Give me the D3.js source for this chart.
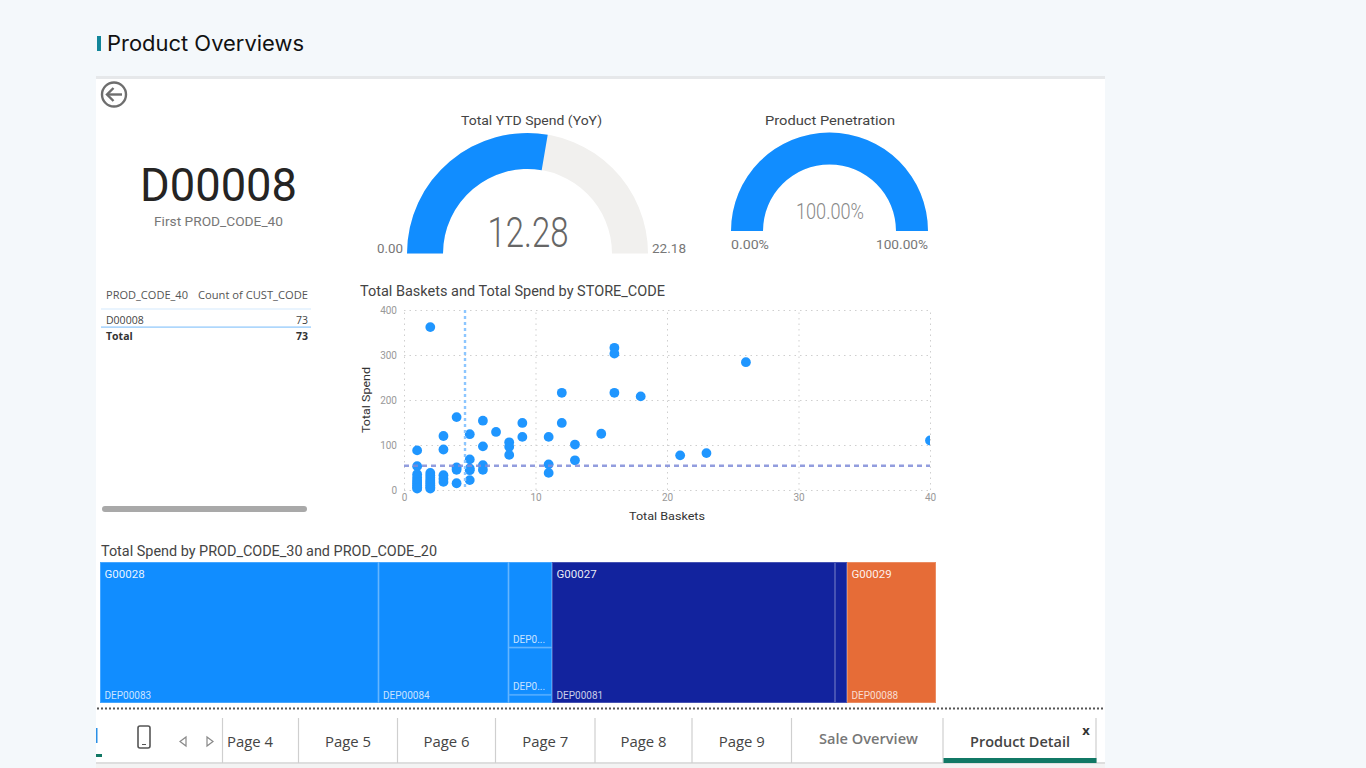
<!DOCTYPE html>
<html>
<head>
<meta charset="utf-8">
<title>Product Overviews</title>
<script src="https://cdn.jsdelivr.net/npm/d3@7"></script>
<style>
  html, body { margin: 0; padding: 0; background: #f4f8fb; overflow: hidden; }
  svg { display: block; }
  text { font-family: Roboto, sans-serif; }
</style>
</head>
<body>
<svg id="page" width="1366" height="768"></svg>
<script>
// Report values
const productCode = "D00008";
const ytdSpend = 12.28;
const ytdSpendMax = 22.18;
const penetration = 100;
const penetrationMax = 100;
const tableHeaders = ["PROD_CODE_40", "Count of CUST_CODE"];
const tableRowValue = 73;
const tableTotalValue = 73;

// Store scatter: baskets and spend per store
const storeBaskets = [2, 1, 1, 1, 1, 1, 1, 1, 1, 1, 1, 2, 2, 2, 2, 2, 2, 2, 2, 2,
  3, 3, 3, 3, 3, 4, 4, 4, 4, 5, 5, 5, 5, 5, 6, 6, 6, 6, 7, 8, 8, 8, 9, 9,
  11, 11, 11, 12, 12, 13, 13, 15, 16, 16, 16, 18, 21, 23, 26, 40];
const storeSpend = [362, 88, 53, 35, 28, 22, 18, 14, 10, 6, 3, 38, 32, 27, 22, 18, 14, 10, 6, 3,
  120, 90, 33, 25, 18, 162, 50, 45, 15, 124, 68, 48, 44, 22, 154, 97, 55, 45, 129, 106, 96, 78, 149, 118,
  118, 57, 38, 216, 149, 101, 66, 125, 316, 303, 216, 208, 77, 82, 284, 110];
const averageBaskets = 4.64;
const averageSpend = 54;
const basketTicks = [0, 10, 20, 30, 40];
const spendTicks = [0, 100, 200, 300, 400];

// Spend treemap by group and department
const group28Departments = ["DEP00083", "DEP00084"];
const group28Spend = [2785, 1300];
const group28SmallDepartments = ["DEP0...", "DEP0...", ""];
const group28SmallSpend = [264, 146, 25];
const group27Departments = ["DEP00081", ""];
const group27Spend = [2830, 120];
const group29Departments = ["DEP00088"];
const group29Spend = [890];

const tabNames = ["Page 4", "Page 5", "Page 6", "Page 7", "Page 8", "Page 9"];

const BLUE = "#118DFF", NAVY = "#12239E", ORANGE = "#E66C37";

const svg = d3.select("#page");

function label(parent, x, y, str, o = {}) {
  const t = parent.append("text")
    .attr("x", x).attr("y", y).text(str)
    .attr("text-anchor", o.anchor || "start")
    .attr("font-size", o.size || 12)
    .attr("font-weight", o.weight || 400)
    .attr("fill", o.color || "#444");
  if (o.family) t.style("font-family", o.family);
  if (o.width) t.attr("textLength", o.width).attr("lengthAdjust", "spacingAndGlyphs");
  if (o.opacity) t.attr("fill-opacity", o.opacity);
  return t;
}

// Page heading and report canvas
svg.append("rect").attr("x", 97).attr("y", 36).attr("width", 4).attr("height", 15).attr("fill", "#12869a");
label(svg, 107, 51, "Product Overviews", { size: 21, color: "#111", family: "Inter, sans-serif", width: 197 });
svg.append("rect").attr("x", 96).attr("y", 76).attr("width", 1009).attr("height", 3).attr("fill", "#e6e8ea");
svg.append("rect").attr("x", 96).attr("y", 79).attr("width", 1009).attr("height", 685).attr("fill", "#fff");

// Back button
const back = svg.append("g").attr("fill", "none").attr("stroke", "#6e6e6e").attr("stroke-width", 2.4);
back.append("circle").attr("cx", 114).attr("cy", 94.5).attr("r", 12);
back.append("path").attr("d", d3.line()([[107, 94.5], [122, 94.5]]));
back.append("path").attr("d", d3.line()([[113.5, 88], [107, 94.5], [113.5, 101]]));

// Card
label(svg, 218.5, 201, productCode, { size: 46, color: "#252423", anchor: "middle", width: 157 });
label(svg, 218.5, 226, "First PROD_CODE_40", { size: 13, color: "#777", anchor: "middle", width: 129 });

// Gauges
function gauge(cx, cy, rOuter, rInner, value, max) {
  const angle = d3.scaleLinear().domain([0, max]).range([-Math.PI / 2, Math.PI / 2]);
  const arc = d3.arc().innerRadius(rInner).outerRadius(rOuter);
  const g = svg.append("g").attr("transform", `translate(${cx},${cy})`);
  g.append("path").attr("fill", "#f1f0ee").attr("d", arc({ startAngle: angle(0), endAngle: angle(max) }));
  g.append("path").attr("fill", BLUE).attr("d", arc({ startAngle: angle(0), endAngle: angle(value) }));
}
const fmt2 = d3.format(".2f");
gauge(527.5, 253.5, 120.5, 84.5, ytdSpend, ytdSpendMax);
label(svg, 531.5, 125, "Total YTD Spend (YoY)", { size: 13.5, color: "#444", anchor: "middle", width: 141 });
label(svg, 528, 247, fmt2(ytdSpend), { size: 42, weight: 300, color: "#666", anchor: "middle", width: 81 });
label(svg, 377, 253, fmt2(0), { size: 13.5, color: "#777", width: 26 });
label(svg, 652, 253, fmt2(ytdSpendMax), { size: 13.5, color: "#777", width: 34 });

gauge(829.5, 231, 98.5, 66.5, penetration, penetrationMax);
label(svg, 830, 125, "Product Penetration", { size: 13.5, color: "#444", anchor: "middle", width: 130 });
label(svg, 830, 219, fmt2(penetration) + "%", { size: 22, weight: 300, color: "#888", anchor: "middle", width: 68 });
label(svg, 731, 249, fmt2(0) + "%", { size: 13.5, color: "#777", width: 38 });
label(svg, 928, 249, fmt2(penetrationMax) + "%", { size: 13.5, color: "#777", anchor: "end", width: 52 });

// Table
const OS = "'Open Sans', sans-serif";
label(svg, 106, 299, tableHeaders[0], { size: 10.5, color: "#555", family: OS, width: 82 });
label(svg, 308, 299, tableHeaders[1], { size: 10.5, color: "#555", family: OS, anchor: "end", width: 110 });
svg.append("rect").attr("x", 101).attr("y", 308.5).attr("width", 210).attr("height", 1).attr("fill", "#d3e9fd");
label(svg, 106, 323.5, productCode, { size: 10.5, color: "#444", family: OS });
label(svg, 308, 323.5, tableRowValue, { size: 10.5, color: "#444", family: OS, anchor: "end" });
svg.append("rect").attr("x", 101).attr("y", 326.5).attr("width", 210).attr("height", 1.2).attr("fill", "#8cc6fb");
label(svg, 106, 340, "Total", { size: 10.5, weight: 700, color: "#333", family: OS });
label(svg, 308, 340, tableTotalValue, { size: 10.5, weight: 700, color: "#333", family: OS, anchor: "end" });
svg.append("rect").attr("x", 102).attr("y", 506).attr("width", 205).attr("height", 6).attr("rx", 3).attr("fill", "#a9a9a9");

// Scatter chart
label(svg, 360, 295.5, "Total Baskets and Total Spend by STORE_CODE", { size: 14, color: "#444", width: 305 });
const x = d3.scaleLinear().domain([0, 40]).range([404, 930]);
const y = d3.scaleLinear().domain([0, 400]).range([490, 310]);

const xAxis = svg.append("g").attr("transform", "translate(0,490)")
  .call(d3.axisBottom(x).tickValues(basketTicks).tickSize(-180).tickPadding(4));
const yAxis = svg.append("g").attr("transform", "translate(404,0)")
  .call(d3.axisLeft(y).tickValues(spendTicks).tickSize(-526).tickPadding(7));
[xAxis, yAxis].forEach(a => {
  a.select(".domain").remove();
  a.selectAll("line").attr("stroke", "#cfcfcf").attr("stroke-dasharray", "1.5 4");
  a.selectAll("text").attr("fill", "#999").attr("font-size", 10).style("font-family", "Roboto, sans-serif");
});
label(svg, 667, 520, "Total Baskets", { size: 11, color: "#333", anchor: "middle", width: 76 });
label(svg, 0, 0, "Total Spend", { size: 11, color: "#333", anchor: "middle", width: 66 })
  .attr("transform", "translate(370,400) rotate(-90)");

svg.append("defs").append("clipPath").attr("id", "plot-clip")
  .append("rect").attr("x", 400).attr("y", 305).attr("width", 530).attr("height", 190);
const plot = svg.append("g").attr("clip-path", "url(#plot-clip)");
plot.append("g").selectAll("circle")
  .data(d3.range(storeBaskets.length))
  .join("circle")
  .attr("cx", i => x(storeBaskets[i]))
  .attr("cy", i => y(storeSpend[i]))
  .attr("r", 4.9)
  .attr("fill", "#1f96ff");
svg.append("line").attr("x1", x(averageBaskets)).attr("x2", x(averageBaskets)).attr("y1", y(400)).attr("y2", y(0))
  .attr("stroke", "#8cc6ff").attr("stroke-width", 2.4).attr("stroke-dasharray", "3 3");
svg.append("line").attr("x1", x(0)).attr("x2", x(40)).attr("y1", y(averageSpend)).attr("y2", y(averageSpend))
  .attr("stroke", "#7f8cd8").attr("stroke-opacity", 0.85).attr("stroke-width", 2.6).attr("stroke-dasharray", "5 4");

// Treemap: groups run left to right, departments inside them, small departments stacked
label(svg, 101, 555.5, "Total Spend by PROD_CODE_30 and PROD_CODE_20", { size: 14, color: "#444", width: 336 });

const leaves = (names, values) => names.map((n, i) => ({ name: n, value: values[i] }));
const treeData = {
  name: "all",
  children: [
    { name: "G00028", color: BLUE, children: [
      ...leaves(group28Departments, group28Spend),
      { name: "small", stack: true, children: leaves(group28SmallDepartments, group28SmallSpend) }
    ] },
    { name: "G00027", color: NAVY, children: leaves(group27Departments, group27Spend) },
    { name: "G00029", color: ORANGE, children: leaves(group29Departments, group29Spend) }
  ]
};
const root = d3.hierarchy(treeData).sum(d => d.value || 0);
d3.treemap()
  .size([836, 141])
  .tile((node, x0, y0, x1, y1) =>
    (node.data.stack ? d3.treemapSlice : d3.treemapDice)(node, x0, y0, x1, y1))(root);

const tree = svg.append("g").attr("transform", "translate(100,562)");
const colorOf = d => d.ancestors().find(a => a.depth === 1).data.color;
const leafNodes = tree.selectAll("g.leaf").data(root.leaves()).join("g").attr("class", "leaf");
leafNodes.append("rect")
  .attr("x", d => d.x0).attr("y", d => d.y0)
  .attr("width", d => d.x1 - d.x0).attr("height", d => d.y1 - d.y0)
  .attr("fill", colorOf);
leafNodes.append("rect")
  .attr("x", d => d.x0 + 0.5).attr("y", d => d.y0 + 0.5)
  .attr("width", d => d.x1 - d.x0 - 1).attr("height", d => d.y1 - d.y0 - 1)
  .attr("fill", "none").attr("stroke", "#fff").attr("stroke-opacity", 0.22);
leafNodes.append("text")
  .attr("x", d => d.x0 + 4.5).attr("y", d => d.y1 - 4.5)
  .attr("font-size", 10).attr("fill", "#fff").attr("fill-opacity", 0.78)
  .text(d => d.data.name);
tree.selectAll("text.group").data(root.children).join("text")
  .attr("class", "group")
  .attr("x", d => d.x0 + 4.5).attr("y", d => d.y0 + 16)
  .attr("font-size", 11.5).attr("fill", "#fff").attr("fill-opacity", 0.92)
  .text(d => d.data.name);

// Page tab strip
svg.append("line").attr("x1", 97).attr("x2", 1105).attr("y1", 708.5).attr("y2", 708.5)
  .attr("stroke", "#555").attr("stroke-width", 2).attr("stroke-dasharray", "2 2");
svg.append("rect").attr("x", 96).attr("y", 762).attr("width", 1009).attr("height", 2).attr("fill", "#dedede");
svg.append("rect").attr("x", 96).attr("y", 764).attr("width", 1009).attr("height", 4).attr("fill", "#f3f3f3");
svg.append("rect").attr("x", 96).attr("y", 728).attr("width", 1.5).attr("height", 15).attr("fill", "#2a8fe6");
svg.append("rect").attr("x", 96).attr("y", 754).attr("width", 6).attr("height", 3).attr("fill", "#117865");

const tabEdges = [222.5, 298.5, 397.5, 495.5, 595, 692, 791.5, 943, 1096];
svg.append("g").selectAll("line").data(tabEdges).join("line")
  .attr("x1", d => d).attr("x2", d => d).attr("y1", 718).attr("y2", 763)
  .attr("stroke", "#cfcfcf").attr("stroke-width", 1.2);
tabNames.forEach((name, i) => {
  const first = i === 0;
  label(svg, first ? 227 : (tabEdges[i] + tabEdges[i + 1]) / 2, 747, name,
    { size: 14, color: "#444", family: OS, anchor: first ? "start" : "middle", width: 46 });
});
label(svg, 868.5, 744, "Sale Overview", { size: 14.5, weight: 600, color: "#777", family: OS, anchor: "middle", width: 99 });
label(svg, 1020, 747, "Product Detail", { size: 14.5, weight: 600, color: "#444", family: OS, anchor: "middle", width: 100 });
label(svg, 1086, 735, "x", { size: 13, weight: 700, color: "#333", family: OS, anchor: "middle" });
svg.append("rect").attr("x", 943.5).attr("y", 758).attr("width", 153).attr("height", 5).attr("fill", "#117865");

// Phone layout icon and tab scroll arrows
svg.append("rect").attr("x", 138).attr("y", 726).attr("width", 12).attr("height", 22).attr("rx", 2)
  .attr("fill", "none").attr("stroke", "#555").attr("stroke-width", 1.6);
svg.append("line").attr("x1", 142).attr("x2", 146).attr("y1", 744.5).attr("y2", 744.5).attr("stroke", "#555");
const arrow = d3.line();
svg.append("path").attr("d", arrow([[186, 737], [180, 741.5], [186, 746]]) + "Z")
  .attr("fill", "none").attr("stroke", "#888").attr("stroke-width", 1.2);
svg.append("path").attr("d", arrow([[207, 737], [213, 741.5], [207, 746]]) + "Z")
  .attr("fill", "none").attr("stroke", "#888").attr("stroke-width", 1.2);
</script>
</body>
</html>
